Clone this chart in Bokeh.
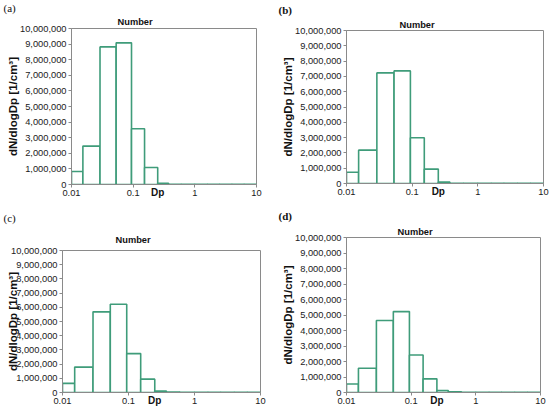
from bokeh.plotting import figure
from bokeh.models import (Range1d, FixedTicker, NumeralTickFormatter,
                          CustomJSTickFormatter, ColumnDataSource, Title, LogAxis)
from bokeh.layouts import column, row
from bokeh.embed import file_html
from bokeh.resources import INLINE

# ---- data ----
bin_edges = [0.01, 0.0153, 0.029, 0.053, 0.094, 0.153, 0.25, 0.375,
             0.6, 1.0, 1.6, 2.5, 4.0, 6.3, 10.0]
values_a = [830000, 2460000, 8820000, 9080000, 3570000, 1090000, 80000,
            20000, 15000, 12000, 10000, 10000, 10000, 10000]
values_b = [740000, 2180000, 7230000, 7360000, 2990000, 940000, 90000,
            20000, 15000, 12000, 10000, 10000, 10000, 10000]
values_c = [640000, 1790000, 5680000, 6210000, 2740000, 940000, 110000,
            25000, 15000, 12000, 10000, 10000, 10000, 10000]
values_d = [550000, 1560000, 4650000, 5220000, 2420000, 880000, 130000,
            40000, 20000, 15000, 12000, 10000, 10000, 10000]
panel_tags = ["(a)", "(b)", "(c)", "(d)"]
x_ticks = [0.01, 0.1, 1, 10]
y_ticks = [0, 1000000, 2000000, 3000000, 4000000, 5000000, 6000000,
           7000000, 8000000, 9000000, 10000000]
dp_tick = [0.25]
title_text = "Number"
x_title = "Dp"
y_title = "dN/dlogDp [1/cm\u00b3]"

BAR = "#3f9c7a"
GRAY = "#8a8a8a"
SANS = "Liberation Sans"
SERIF = "Liberation Serif"

W, H = 275, 205
specs = [
    dict(L=71, R=19, T=28, B=21, bold=False, num_off=46, num_so=2.5,
         tag_so=-1.2, ylab_so=-2),
    dict(L=71, R=7, T=30, B=22, bold=True, num_off=53, num_so=2,
         tag_so=1.3, ylab_so=-2),
    dict(L=62, R=15, T=42, B=18, bold=False, num_off=53, num_so=11.3,
         tag_so=7.7, ylab_so=-11),
    dict(L=71, R=10, T=29, B=18, bold=True, num_off=51, num_so=1,
         tag_so=5, ylab_so=-2),
]
all_values = [values_a, values_b, values_c, values_d]


def make_panel(vals, tag, s):
    p = figure(width=W, height=H, x_axis_type="log",
               x_range=Range1d(0.01, 10), y_range=Range1d(0, 10000000),
               output_backend="svg", toolbar_location=None, title=None,
               min_border_left=s["L"], min_border_right=s["R"],
               min_border_top=s["T"], min_border_bottom=s["B"])
    p.background_fill_color = "white"
    p.border_fill_color = "white"
    p.outline_line_color = GRAY
    p.outline_line_width = 1
    p.xgrid.visible = False
    p.ygrid.visible = False

    src = ColumnDataSource(dict(left=bin_edges[:-1], right=bin_edges[1:],
                                top=vals, bottom=[0] * len(vals)))
    p.quad(left="left", right="right", top="top", bottom="bottom",
           source=src, fill_color="white", line_color=BAR, line_width=1.6)

    for ax in (p.xaxis[0], p.yaxis[0]):
        ax.axis_line_color = GRAY
        ax.major_tick_line_color = GRAY
        ax.minor_tick_line_color = None
        ax.major_tick_in = 0
        ax.major_tick_out = 3
        ax.major_label_standoff = 2
        ax.major_label_text_font = SANS
        ax.major_label_text_font_size = "9.3px"
        ax.major_label_text_color = "#1a1a1a"
    p.xaxis.ticker = FixedTicker(ticks=x_ticks, minor_ticks=[])
    p.xaxis.formatter = CustomJSTickFormatter(code="return tick.toString();")
    p.yaxis.ticker = FixedTicker(ticks=y_ticks, minor_ticks=[])
    p.yaxis.formatter = NumeralTickFormatter(format="0,0")

    # y title
    p.yaxis.axis_label = y_title
    p.yaxis.axis_label_text_font = SANS
    p.yaxis.axis_label_text_font_style = "bold"
    p.yaxis.axis_label_text_font_size = "11.5px"
    p.yaxis.axis_label_text_color = "#111111"
    p.yaxis.axis_label_standoff = s["ylab_so"]

    # "Dp" as an extra, bare axis sharing the x scale
    dp_axis = LogAxis(ticker=FixedTicker(ticks=dp_tick, minor_ticks=[]),
                      formatter=CustomJSTickFormatter(
                          code="return %r;" % x_title),
                      axis_line_color=None, major_tick_line_color=None,
                      minor_tick_line_color=None, major_tick_in=0,
                      major_tick_out=0, major_label_standoff=-12,
                      major_label_text_font=SANS,
                      major_label_text_font_style="bold",
                      major_label_text_font_size="10px",
                      major_label_text_color="#111111")
    p.add_layout(dp_axis, "below")

    # "Number" title, then the panel tag above it
    p.add_layout(Title(text=title_text, align="left", offset=s["num_off"],
                       standoff=s["num_so"], text_font=SANS,
                       text_font_style="bold", text_font_size="9.3px",
                       text_line_height=1.0, text_color="#111111"), "above")
    p.add_layout(Title(text=tag, align="left", offset=3 - s["L"],
                       standoff=s["tag_so"], text_font=SERIF,
                       text_font_style="bold" if s["bold"] else "normal",
                       text_font_size="11px", text_line_height=1.0,
                       text_color="#111111"), "above")
    return p


panels = [make_panel(v, t, s) for v, t, s in zip(all_values, panel_tags, specs)]
layout = column(row(column(panels[0]), column(panels[1])),
                row(column(panels[2]), column(panels[3])))

open("out.html", "w").write(file_html(layout, INLINE))
